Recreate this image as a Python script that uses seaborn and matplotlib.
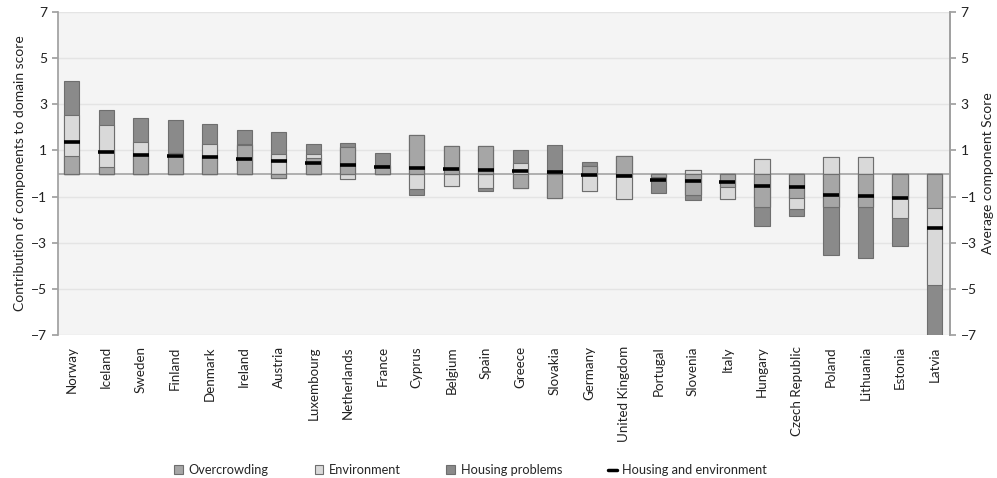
import numpy as np
import pandas as pd
import seaborn as sns
import matplotlib.pyplot as plt
from matplotlib.patches import Patch
from matplotlib.lines import Line2D

countries = ['Norway', 'Iceland', 'Sweden', 'Finland', 'Denmark', 'Ireland', 'Austria',
             'Luxembourg', 'Netherlands', 'France', 'Cyprus', 'Belgium', 'Spain', 'Greece',
             'Slovakia', 'Germany', 'United Kingdom', 'Portugal', 'Slovenia', 'Italy',
             'Hungary', 'Czech Republic', 'Poland', 'Lithuania', 'Estonia', 'Latvia']
overcrowding = [0.75, 0.29, 0.82, 0.80, 0.75, 1.22, -0.18, 0.68, 1.16, 0.32, 1.66, 1.19, 1.19,
                -0.62, -1.08, 0.32, 0.75, -0.15, -0.95, -0.60, -1.46, -1.05, -1.46, -1.46,
                -1.07, -1.49]
environment = [1.80, 1.80, 0.53, 0.09, 0.52, 0.08, 0.84, 0.18, -0.25, 0.05, -0.65, -0.53, -0.61,
               0.45, 0.00, -0.74, -1.10, 0.00, 0.15, -0.50, 0.63, -0.50, 0.70, 0.70,
               -0.84, -3.34]
housing_problems = [1.46, 0.65, 1.04, 1.42, 0.86, 0.58, 0.97, 0.40, 0.15, 0.53, -0.27, 0.00,
                    -0.13, 0.55, 1.23, 0.17, 0.00, -0.70, -0.20, 0.00, -0.81, -0.27, -2.07,
                    -2.21, -1.21, -2.19]
housing_env_avg = [1.36, 0.93, 0.80, 0.77, 0.72, 0.63, 0.55, 0.45, 0.35, 0.30, 0.26, 0.21, 0.15,
                   0.13, 0.05, -0.08, -0.12, -0.27, -0.33, -0.37, -0.55, -0.60, -0.94, -0.99,
                   -1.04, -2.34]
yticks = [7, 5, 3, 1, -1, -3, -5, -7]

comps = ['Overcrowding', 'Environment', 'Housing problems']
colors = {'Overcrowding': '#a6a6a6', 'Environment': '#d9d9d9', 'Housing problems': '#8a8a8a'}

df = pd.DataFrame({'Country': countries, 'Overcrowding': overcrowding,
                   'Environment': environment, 'Housing problems': housing_problems})

sns.set_theme(style="white")
plt.rcParams['font.family'] = ['Lato', 'DejaVu Sans']

fig, ax = plt.subplots(figsize=(9.97, 4.78), dpi=100)
fig.subplots_adjust(left=0.058, right=0.953, top=0.975, bottom=0.299)
ax.set_facecolor('#f4f4f4')

# positives stack up from zero, negatives stack down
pos = df[comps].clip(lower=0).cumsum(axis=1)
neg = df[comps].clip(upper=0).cumsum(axis=1)
for c in reversed(comps):
    for cum in (pos, neg):
        sns.barplot(x=df['Country'], y=cum[c], color=colors[c], saturation=1, width=0.44,
                    edgecolor='#6e6e6e', linewidth=0.8, errorbar=None, ax=ax, zorder=3)

sns.pointplot(x=countries, y=housing_env_avg, color='black', linestyle='none', marker='_',
              markersize=12, markeredgewidth=2.6, errorbar=None, ax=ax, zorder=5)

ax.axhline(0, color='#a9a9a9', lw=1.3, zorder=2)
for t in yticks:
    ax.axhline(t, color='#e4e4e4', lw=1, zorder=1)

ax.set_xlim(-0.4, len(countries) - 0.55)
ax.set_ylim(-7, 7)
ax.set_yticks(yticks)
ax.set_xlabel('')
ax.set_ylabel('Contribution of components to domain score', fontsize=10, color='#222222')
ax.tick_params(axis='y', left=True, length=4, color='#a0a0a0', labelsize=10, labelcolor='#222222')
ax.tick_params(axis='x', bottom=False, labelsize=9.6, labelcolor='#222222', pad=2)
plt.setp(ax.get_xticklabels(), rotation=90)
for s in ['top', 'bottom']:
    ax.spines[s].set_visible(False)
for s in ['left', 'right']:
    ax.spines[s].set_color('#a0a0a0')

ax2 = ax.twinx()
ax2.set_ylim(-7, 7)
ax2.set_yticks(yticks)
ax2.set_ylabel('Average component Score', fontsize=10, color='#222222')
ax2.tick_params(axis='y', right=True, length=4, color='#a0a0a0', labelsize=10, labelcolor='#222222')
for s in ['top', 'bottom', 'left']:
    ax2.spines[s].set_visible(False)
ax2.spines['right'].set_color('#a0a0a0')

handles = [Patch(facecolor=colors[c], edgecolor='#6e6e6e', linewidth=0.8) for c in comps]
handles.append(Line2D([0], [0], color='black', lw=2.5))
fig.legend(handles, comps + ['Housing and environment'], loc='lower center',
           bbox_to_anchor=(0.472, -0.02), ncol=4, frameon=False, fontsize=9.2,
           handlelength=0.7, handleheight=0.7, handletextpad=0.4, columnspacing=3.6)

fig.savefig('out.png', dpi=100)
